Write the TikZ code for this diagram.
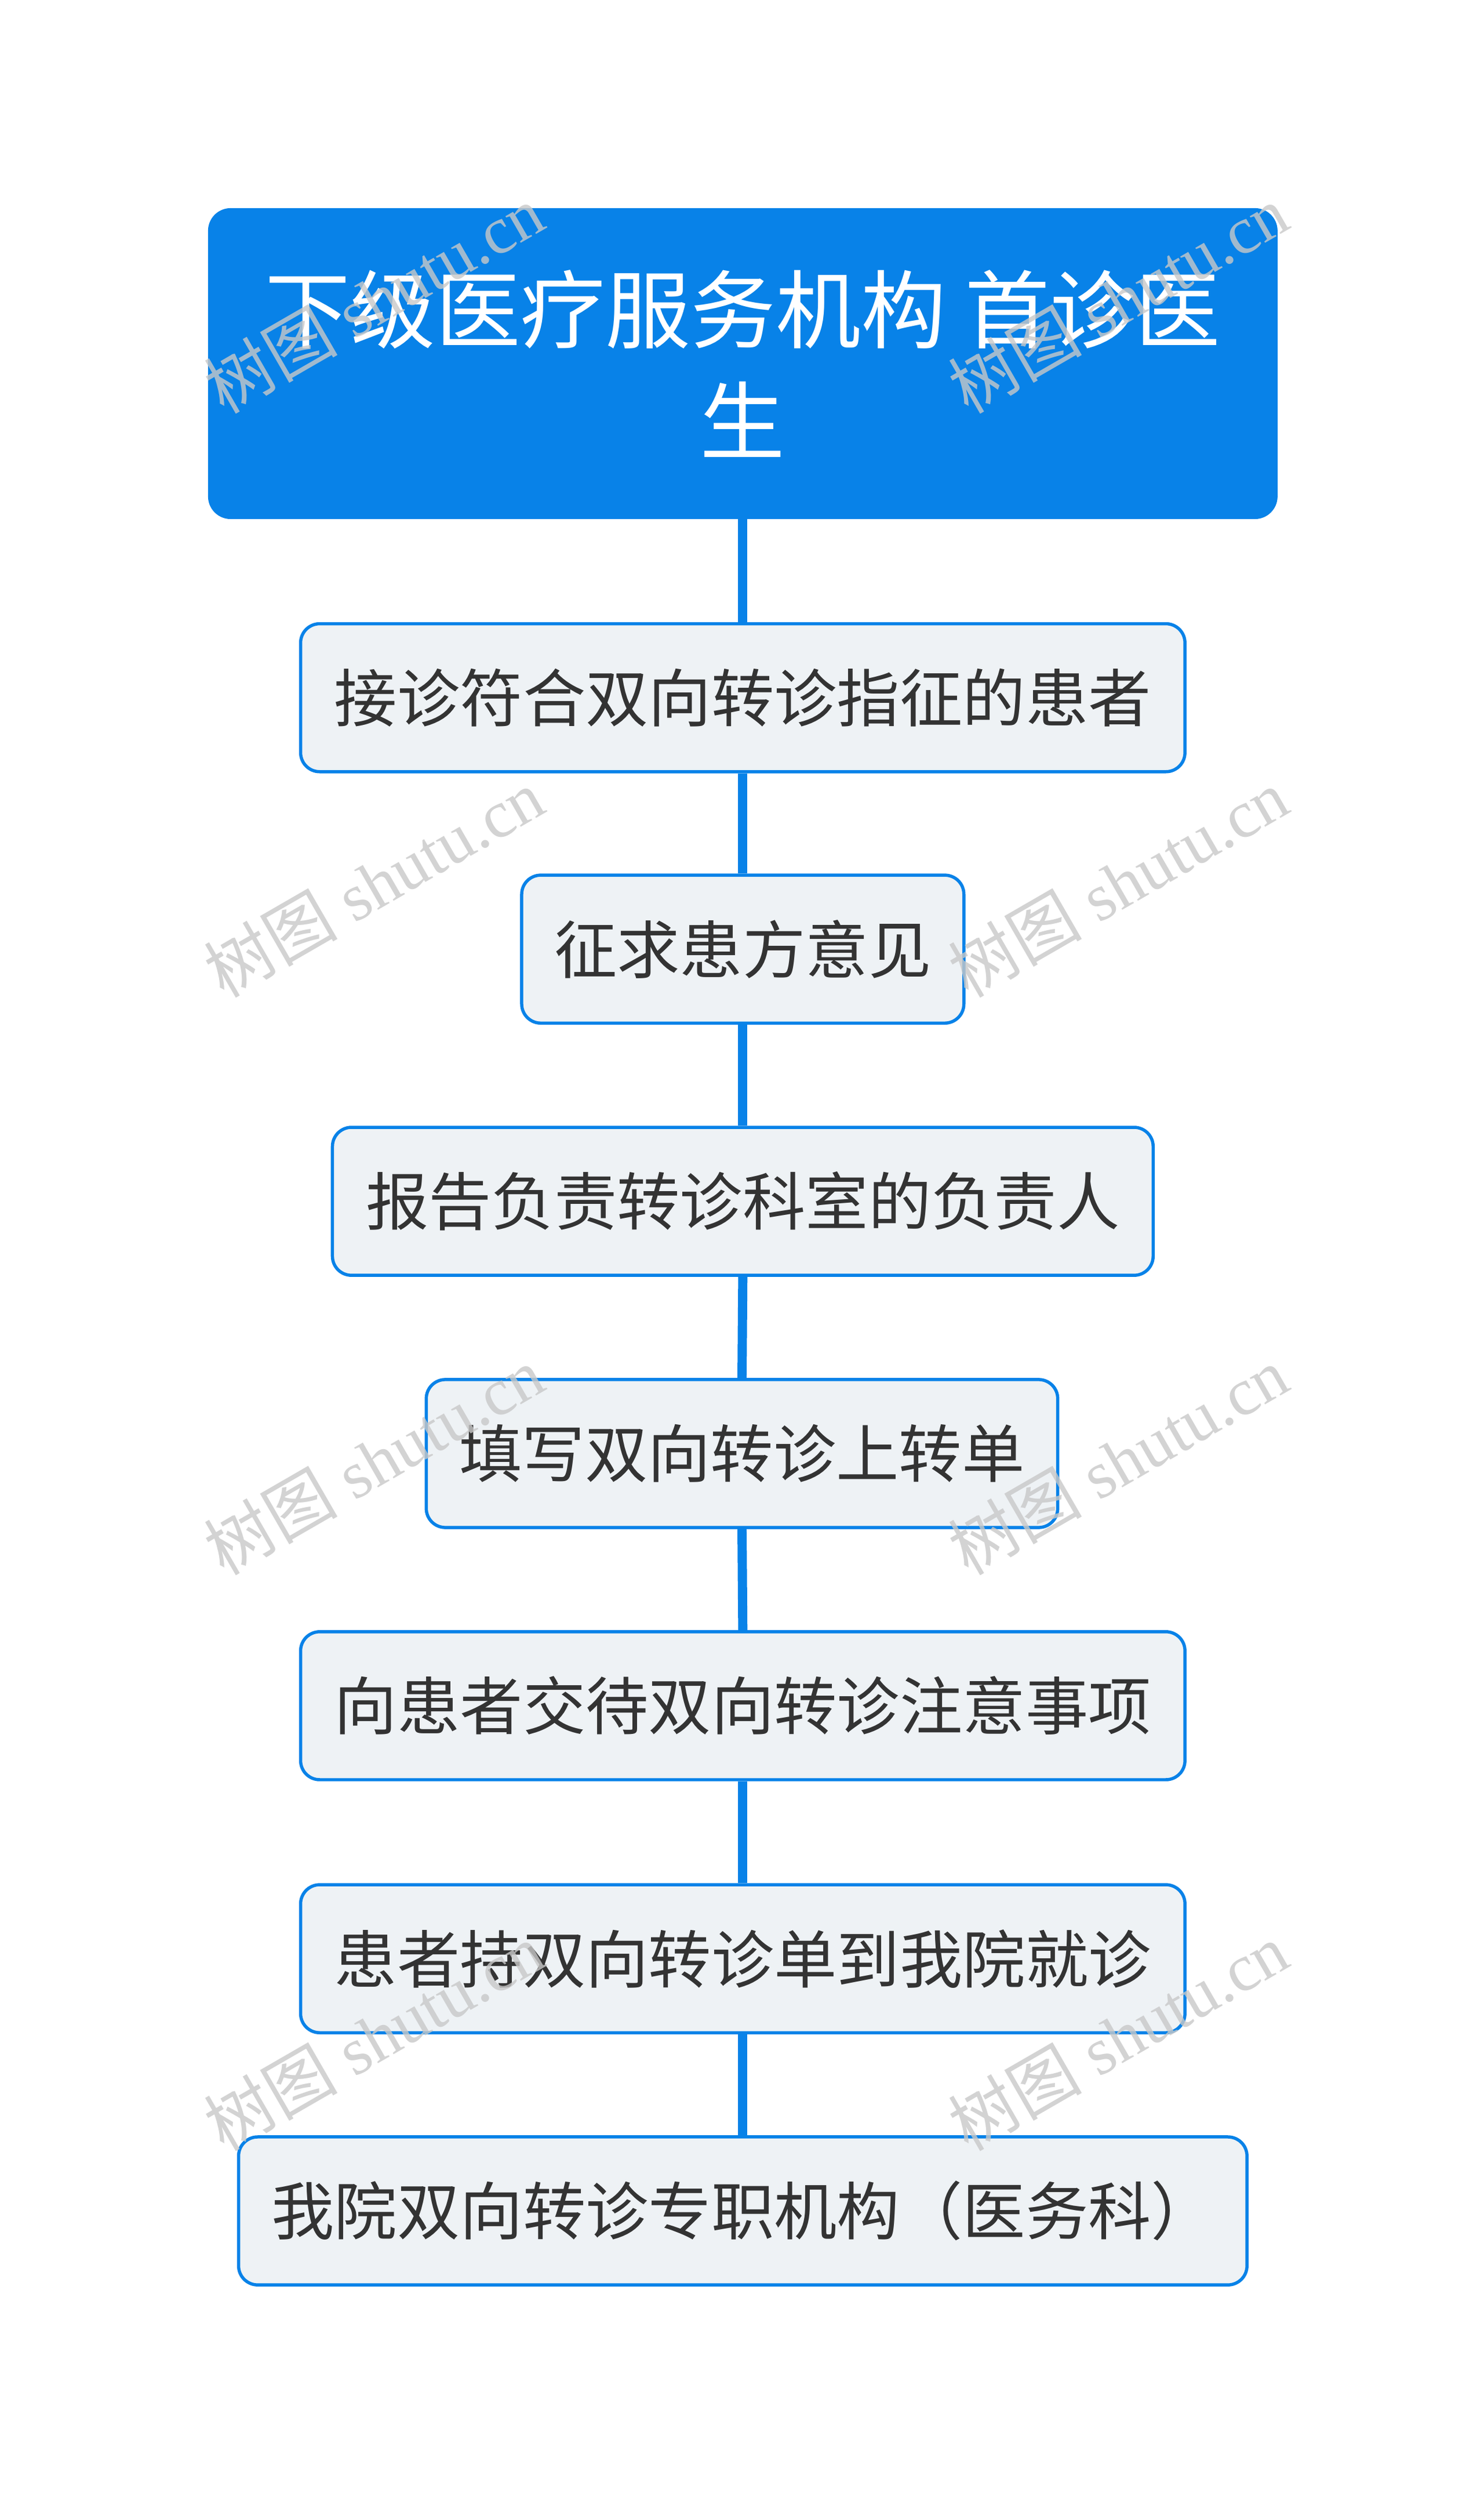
\documentclass[tikz,border=0pt]{standalone}
\usepackage{fontspec}
\newfontfamily\cjk{Noto Sans CJK SC}
\newfontfamily\wmlatin{Liberation Serif}
\definecolor{mainblue}{RGB}{8,130,232}
\definecolor{boxfill}{RGB}{238,242,245}
\definecolor{boxtext}{RGB}{51,51,51}
\definecolor{wmgray}{RGB}{200,200,200}
\tikzset{
  rootbox/.style={rectangle, rounded corners=14pt, fill=mainblue, draw=mainblue,
    minimum width=672pt, minimum height=195pt, inner sep=0pt, text=white,
    align=center, font=\cjk\fontsize{53.5}{70}\selectfont},
  stepbox/.style={rectangle, rounded corners=12pt, fill=boxfill, draw=mainblue,
    line width=2pt, minimum height=93pt, inner sep=0pt, text=boxtext,
    font=\cjk\fontsize{39.5}{47}\selectfont},
  conn/.style={draw=mainblue, line width=5.8pt},
  wm/.style={text=wmgray, opacity=0.8, rotate=30, inner sep=0pt,
    font=\wmlatin\fontsize{42}{42}\selectfont}
}
\begin{document}
\begin{tikzpicture}[x=1pt,y=-1pt]
\useasboundingbox[fill=white] (0,0) rectangle (933,1566.8);
\node[rootbox] (n0) at (467,228.5) {下级医疗服务机构 首诊医\\生};
\node[stepbox, minimum width=556pt] (n1) at (467,438.5) {接诊符合双向转诊指征的患者};
\node[stepbox, minimum width=278pt] (n2) at (467,596.5) {征求患方意见};
\node[stepbox, minimum width=516pt] (n3) at (467,755) {报告负责转诊科室的负责人};
\node[stepbox, minimum width=397pt] (n4) at (466.5,913.5) {填写双向转诊上转单};
\node[stepbox, minimum width=556pt] (n5) at (467,1072) {向患者交待双向转诊注意事项};
\node[stepbox, minimum width=556pt] (n6) at (467,1231) {患者持双向转诊单到我院就诊};
\node[stepbox, minimum width=634pt] (n7) at (467,1389.5) {我院双向转诊专职机构（医务科）};
\draw[conn] (n0.south) -- (n1.north);
\draw[conn] (n1.south) -- (n2.north);
\draw[conn] (n2.south) -- (n3.north);
\draw[conn] (n3.south) -- (n4.north);
\draw[conn] (n4.south) -- (n5.north);
\draw[conn] (n5.south) -- (n6.north);
\draw[conn] (n6.south) -- (n7.north);
\foreach \yy [count=\i] in {188,555,918,1280}{
  \node[wm] (wl\i) at (235,\yy) {{\cjk 树图} shutu.cn};
  \node[wm] (wr\i) at (703,\yy) {{\cjk 树图} shutu.cn};
}
\end{tikzpicture}
\end{document}
